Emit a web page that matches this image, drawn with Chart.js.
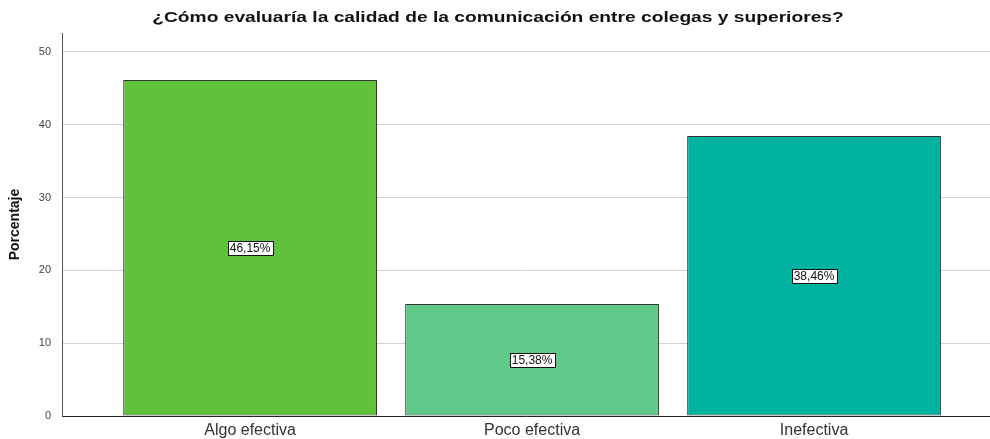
<!DOCTYPE html>
<html>
<head>
<meta charset="utf-8">
<script src="https://cdn.jsdelivr.net/npm/chart.js@4.4.1/dist/chart.umd.min.js"></script>
<style>
  html, body { margin: 0; padding: 0; background: #fff; }
  #wrap { width: 990px; height: 439px; }
</style>
</head>
<body>
<div id="wrap"><canvas id="chart" width="990" height="439"></canvas></div>
<script>
const chartTitle = '¿Cómo evaluaría la calidad de la comunicación entre colegas y superiores?';
const categories = ['Algo efectiva', 'Poco efectiva', 'Inefectiva'];
const percentages = [46.15, 15.38, 38.46];
const barColors = ['#5fc23a', '#60c98a', '#00b3a0'];
const yTicks = [0, 10, 20, 30, 40, 50];

// white boxed value labels in the middle of each bar + stretched title
const boxLabels = {
  id: 'boxLabels',
  afterDatasetsDraw(chart) {
    const ctx = chart.ctx;
    const meta = chart.getDatasetMeta(0);
    ctx.save();
    ctx.font = '12px "Liberation Sans", Arial, sans-serif';
    ctx.textAlign = 'center';
    ctx.textBaseline = 'middle';
    meta.data.forEach((bar, i) => {
      const txt = percentages[i].toFixed(2).replace('.', ',') + '%';
      const w = Math.round(ctx.measureText(txt).width + 4);
      const h = 14;
      const cy = (bar.y + bar.base) / 2;
      const x0 = Math.round(bar.x - w / 2) + 0.5;
      const y0 = Math.round(cy - h / 2) + 0.5;
      ctx.fillStyle = '#fff';
      ctx.fillRect(x0, y0, w, h);
      ctx.strokeStyle = '#111';
      ctx.lineWidth = 1;
      ctx.strokeRect(x0, y0, w, h);
      ctx.fillStyle = '#111';
      ctx.fillText(txt, bar.x, cy + 1);
    });
    ctx.restore();
  },
  afterDraw(chart) {
    const ctx = chart.ctx;
    ctx.save();
    ctx.font = 'bold 15px "Liberation Sans", Arial, sans-serif';
    ctx.fillStyle = '#111';
    ctx.textAlign = 'center';
    ctx.textBaseline = 'middle';
    ctx.translate(498, 18);
    ctx.scale(1.28, 1);
    ctx.fillText(chartTitle, 0, 0);
    ctx.restore();
  }
};

new Chart(document.getElementById('chart'), {
  type: 'bar',
  data: {
    datasets: [{
      data: categories.map((c, i) => ({ x: i, y: percentages[i] })),
      backgroundColor: barColors,
      borderColor: '#333',
      borderWidth: 1,
      borderSkipped: false,
      barPercentage: 0.9,
      categoryPercentage: 1
    }]
  },
  options: {
    responsive: false,
    animation: false,
    layout: { padding: { left: 0, right: 0, top: 33, bottom: 0 } },
    plugins: {
      legend: { display: false },
      tooltip: { enabled: false },
      title: { display: false }
    },
    scales: {
      x: {
        type: 'linear',
        offset: false,
        min: -0.667,
        max: 2.624,
        afterBuildTicks: (scale) => { scale.ticks = categories.map((c, i) => ({ value: i })); },
        afterFit: (scale) => { scale.height = 23; },
        ticks: {
          callback: (v) => categories[v],
          color: '#333',
          font: { family: '"Liberation Sans", Arial, sans-serif', size: 16 },
          padding: 5,
          autoSkip: false,
          maxRotation: 0
        },
        grid: { display: false, drawTicks: false },
        border: { display: true, color: '#222', width: 1 }
      },
      y: {
        min: 0,
        max: 52.6,
        afterBuildTicks: (scale) => { scale.ticks = yTicks.map(v => ({ value: v })); },
        afterFit: (scale) => { scale.width = 62; },
        ticks: {
          color: '#444',
          font: { family: '"Liberation Sans", Arial, sans-serif', size: 11 },
          padding: 11
        },
        grid: { color: '#d2d2d2', drawTicks: false },
        border: { display: true, color: '#555', width: 1 },
        title: {
          display: true,
          text: 'Porcentaje',
          color: '#111',
          font: { family: '"Liberation Sans Narrow", "Liberation Sans", Arial, sans-serif', size: 14, weight: 'bold' },
          padding: { top: 7, bottom: 0 }
        }
      }
    }
  },
  plugins: [boxLabels]
});
</script>
</body>
</html>
